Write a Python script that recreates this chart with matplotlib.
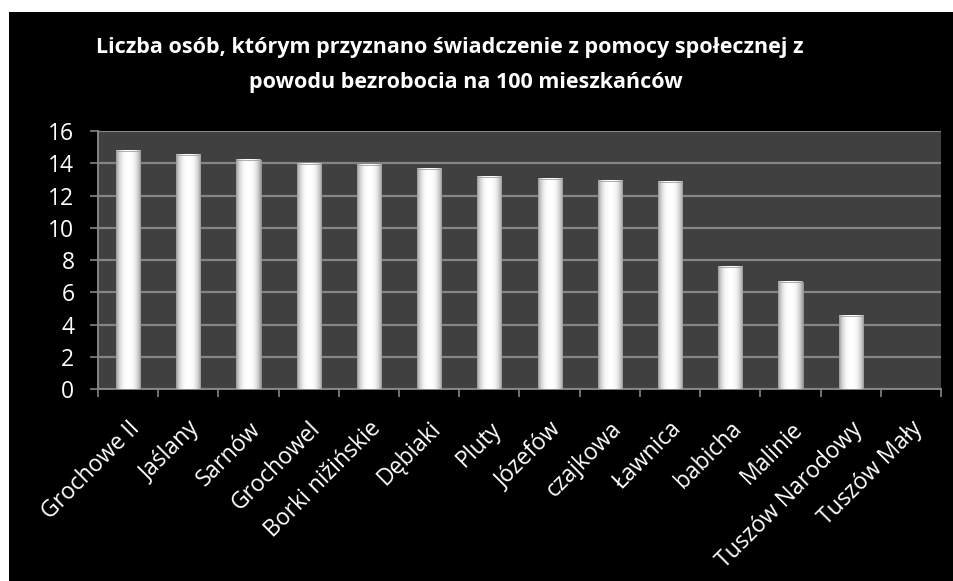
import numpy as np
import matplotlib.pyplot as plt
from matplotlib.patches import Rectangle

# Chart data
categories = ["Grochowe II", "Jaślany", "Sarnów", "Grochowel", "Borki nižińskie",
              "Dębiaki", "Pluty", "Józefów", "czajkowa", "Ławnica", "babicha",
              "Malinie", "Tuszów Narodowy", "Tuszów Mały"]
values = [14.76, 14.53, 14.2, 13.97, 13.89, 13.64, 13.18,
          13.02, 12.9, 12.83, 7.56, 6.67, 4.53, 0.0]
yticks = [0, 2, 4, 6, 8, 10, 12, 14, 16]
title = ("Liczba osób, którym przyznano świadczenie z pomocy społecznej z\n"
         "powodu bezrobocia na 100 mieszkańców")

plt.rcParams['font.family'] = ['Open Sans', 'DejaVu Sans']

fig = plt.figure(figsize=(9.54, 5.81), dpi=100)
fig.patch.set_facecolor('white')
# black chart frame (small white margin top/left like the source)
fig.patches.append(Rectangle((9 / 954, 0), 1, 1 - 12 / 581, transform=fig.transFigure,
                             facecolor='black', edgecolor='none', zorder=-5))

ax = fig.add_axes([98 / 954, 191.7 / 581, 843 / 954, 258.3 / 581])
ax.set_zorder(2)
ax.set_facecolor('#404040')

x = np.arange(len(categories))
bar_w = 0.4

# horizontal shading to mimic the bevelled, glossy bars
u = np.linspace(-1, 1, 64)
shade = 1.0 - 0.38 * np.abs(u) ** 2.6
grad = np.tile(shade, (32, 1))
for xi, v in zip(x, values):
    if v <= 0:
        continue
    ax.imshow(grad, cmap='gray', vmin=0, vmax=1, aspect='auto',
              extent=[xi - bar_w / 2, xi + bar_w / 2, 0, v], zorder=3,
              interpolation='bilinear')
    ax.add_patch(Rectangle((xi - bar_w / 2, 0), bar_w, v, facecolor='none',
                           edgecolor='#a0a0a0', linewidth=0.6, zorder=4))

ax.set_xlim(-0.5, len(categories) - 0.5)
ax.set_ylim(0, 16)
ax.set_yticks(yticks)
ax.set_yticklabels([str(t) for t in yticks], fontsize=16.5, color='white')
ax.yaxis.grid(True, color='#858585', linewidth=1.6, zorder=1)
ax.set_axisbelow(True)

ax.set_xticks(x)
ax.set_xticklabels(categories, rotation=45, ha='right', rotation_mode='anchor',
                   fontsize=16.5, color='white')
ax.set_xticks(np.arange(-0.5, len(categories)), minor=True)
ax.tick_params(axis='x', which='major', length=0, pad=20)
ax.tick_params(axis='x', which='minor', length=6, width=1.2, color='#858585')
ax.tick_params(axis='y', length=6, width=1.2, color='#858585', pad=11)

for side in ['top', 'right']:
    ax.spines[side].set_visible(False)
for side in ['left', 'bottom']:
    ax.spines[side].set_color('#858585')
    ax.spines[side].set_linewidth(1.4)

fig.text(96 / 954, 1 - 47 / 581, title.split("\n")[0], color='white', fontsize=15.5,
         fontweight='bold', ha='left', va='center')
fig.text(466 / 954, 1 - 83 / 581, title.split("\n")[1], color='white', fontsize=15.5,
         fontweight='bold', ha='center', va='center')

fig.savefig("out.png", dpi=100, facecolor=fig.get_facecolor())
